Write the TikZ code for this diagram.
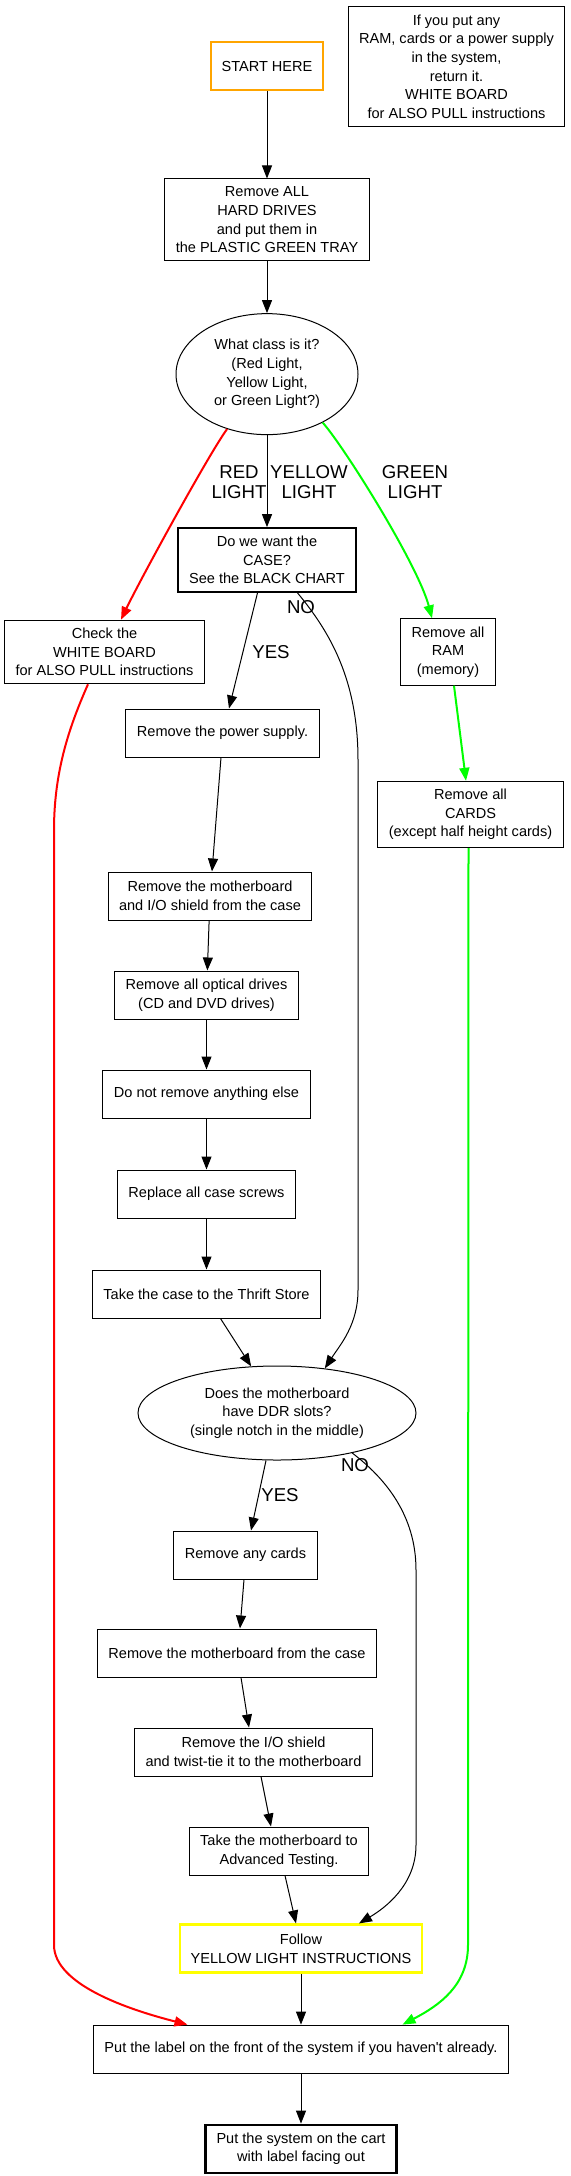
\documentclass[tikz,border=0pt]{standalone}
\usepackage{fontspec}
\setmainfont{Liberation Sans}
\usepackage{xcolor}
\usetikzlibrary{arrows.meta,shapes.geometric,positioning}
\definecolor{startorange} {RGB}{255,165,0}
\definecolor{redlight}    {RGB}{255,0,0}
\definecolor{greenlight}  {RGB}{0,255,0}
\definecolor{yellowlight} {RGB}{255,255,0}
\tikzset{
  stepbox/.style  ={draw, line width=1bp, align=center, minimum height=48bp,
                    inner xsep=11bp, inner ysep=7.8bp,
                    font=\fontsize{14.6}{18.7}\selectfont},
  startbox/.style ={stepbox, draw=startorange, line width=2bp},
  boldbox/.style  ={stepbox, line width=2.2bp},
  followbox/.style={stepbox, draw=yellowlight, line width=2.2bp},
  askell/.style   ={draw, ellipse, line width=1bp, align=center, inner sep=0pt,
                    font=\fontsize{14.6}{18.7}\selectfont},
  edgelbl/.style  ={align=center, inner sep=0pt,
                    font=\fontsize{18.7}{20.7}\selectfont},
  arr/.style      ={-{Triangle[length=13bp,width=10bp]}, line width=1bp},
  redarr/.style   ={arr, draw=redlight, line width=2bp},
  greenarr/.style ={arr, draw=greenlight, line width=2bp},
}
\begin{document}
\begin{tikzpicture}[x=1bp,y=-1bp]
  \useasboundingbox (0,0) rectangle (571,2176);
  % top
  \node[startbox] (start) at (267,66.5) {START HERE};
  \node[stepbox] (note) at (456.5,66.5) {If you put any\\RAM, cards or a power supply\\in the system,\\return it.\\WHITE BOARD\\for ALSO PULL instructions};
  \node[stepbox, below=87bp of start] (hdd) {Remove ALL\\HARD DRIVES\\and put them in\\the PLASTIC GREEN TRAY};
  \node[askell, minimum width=182bp, minimum height=121bp, below=52bp of hdd] (class) {What class is it?\\(Red Light,\\Yellow Light,\\or Green Light?)};
  \node[boldbox, below=92bp of class] (case) {Do we want the\\CASE?\\See the BLACK CHART};
  \node[stepbox] (white) at (104.5,652) {Check the\\WHITE BOARD\\for ALSO PULL instructions};
  \node[stepbox] (ram) at (448,652) {Remove all\\RAM\\(memory)};
  \node[stepbox] (cards) at (470.5,814.5) {Remove all\\CARDS\\(except half height cards)};
  % case branch
  \node[stepbox] (psu) at (222.5,733) {Remove the power supply.};
  \node[stepbox] (mobo) at (210,896) {Remove the motherboard\\and I/O shield from the case};
  \node[stepbox] (optical) at (206.5,995) {Remove all optical drives\\(CD and DVD drives)};
  \node[stepbox, below=50bp of optical] (nothing) {Do not remove anything else};
  \node[stepbox, below=51bp of nothing] (screws) {Replace all case screws};
  \node[stepbox, below=51bp of screws] (thrift) {Take the case to the Thrift Store};
  % motherboard branch
  \node[askell, minimum width=278bp, minimum height=94bp] (ddr) at (277,1413) {Does the motherboard\\have DDR slots?\\(single notch in the middle)};
  \node[stepbox] (anycards) at (245.5,1555) {Remove any cards};
  \node[stepbox] (mobocase) at (237,1653) {Remove the motherboard from the case};
  \node[stepbox] (ioshield) at (253.5,1752) {Remove the I/O shield\\and twist-tie it to the motherboard};
  \node[stepbox] (advtest) at (279,1851) {Take the motherboard to\\Advanced Testing.};
  \node[followbox] (follow) at (301,1948.5) {Follow\\YELLOW LIGHT INSTRUCTIONS};
  \node[stepbox, below=51bp of follow] (putlabel) {Put the label on the front of the system if you haven\textquotesingle t already.};
  \node[boldbox, below=50bp of putlabel] (cart) {Put the system on the cart\\with label facing out};
  % edge labels
  \node[edgelbl] (redlbl)    at (239,482) {RED\\LIGHT};
  \node[edgelbl] (yellowlbl) at (309,482) {YELLOW\\LIGHT};
  \node[edgelbl] (greenlbl)  at (415,482) {GREEN\\LIGHT};
  \node[edgelbl] (caseno)    at (301,607) {NO};
  \node[edgelbl] (caseyes)   at (271,652) {YES};
  \node[edgelbl] (ddrno)     at (355,1465) {NO};
  \node[edgelbl] (ddryes)    at (280,1495) {YES};
  % connectors
  \draw[arr] (start) -- (hdd);
  \draw[arr] (hdd) -- (class);
  \draw[arr] (class) -- (case);
  \draw[redarr] (class.234) .. controls (210,452) and (140,580) .. ([xshift=16.5bp]white.north);
  \draw[greenarr] (class.-41) .. controls (345,448) and (418,565) .. ([xshift=-16bp]ram.north);
  \draw[greenarr] ([xshift=6bp]ram.south) -- ([xshift=-4.5bp]cards.north);
  \draw[arr] ([xshift=-9.5bp]case.south) -- ([xshift=6.5bp]psu.north);
  \draw[arr] ([xshift=30.5bp]case.south) .. controls (330,632) and (358,680) .. (358,760)
    -- (358,1290) .. controls (358,1325) and (340,1345) .. (ddr.43);
  \draw[arr] ([xshift=-1.5bp]psu.south) -- ([xshift=2bp]mobo.north);
  \draw[arr] (mobo) -- (optical);
  \draw[arr] (optical) -- (nothing);
  \draw[arr] (nothing) -- (screws);
  \draw[arr] (screws) -- (thrift);
  \draw[arr] ([xshift=14bp]thrift.south) -- (ddr.119.4);
  \draw[arr] ([xshift=-11bp]ddr.south) -- ([xshift=5.5bp]anycards.north);
  \draw[arr] (ddr.-28.7) .. controls (385,1478) and (416,1515) .. (416,1570)
    -- (416,1845) .. controls (416,1885) and (385,1908) .. ([xshift=58bp]follow.north);
  \draw[arr] ([xshift=-1.5bp]anycards.south) -- ([xshift=3bp]mobocase.north);
  \draw[arr] ([xshift=4bp]mobocase.south) -- ([xshift=-4.5bp]ioshield.north);
  \draw[arr] ([xshift=7.5bp]ioshield.south) -- ([xshift=-8bp]advtest.north);
  \draw[arr] ([xshift=6bp]advtest.south) -- ([xshift=-5bp]follow.north);
  \draw[arr] (follow) -- (putlabel);
  \draw[arr] (putlabel) -- (cart);
  \draw[redarr] ([xshift=-16.5bp]white.south) .. controls (70,725) and (54,770) .. (54,830)
    -- (54,1945) .. controls (54,1985) and (130,2010) .. ([xshift=-113.5bp]putlabel.north);
  \draw[greenarr] ([xshift=-2bp]cards.south) -- (468,1945)
    .. controls (468,1985) and (440,2005) .. ([xshift=101.5bp]putlabel.north);
\end{tikzpicture}
\end{document}
